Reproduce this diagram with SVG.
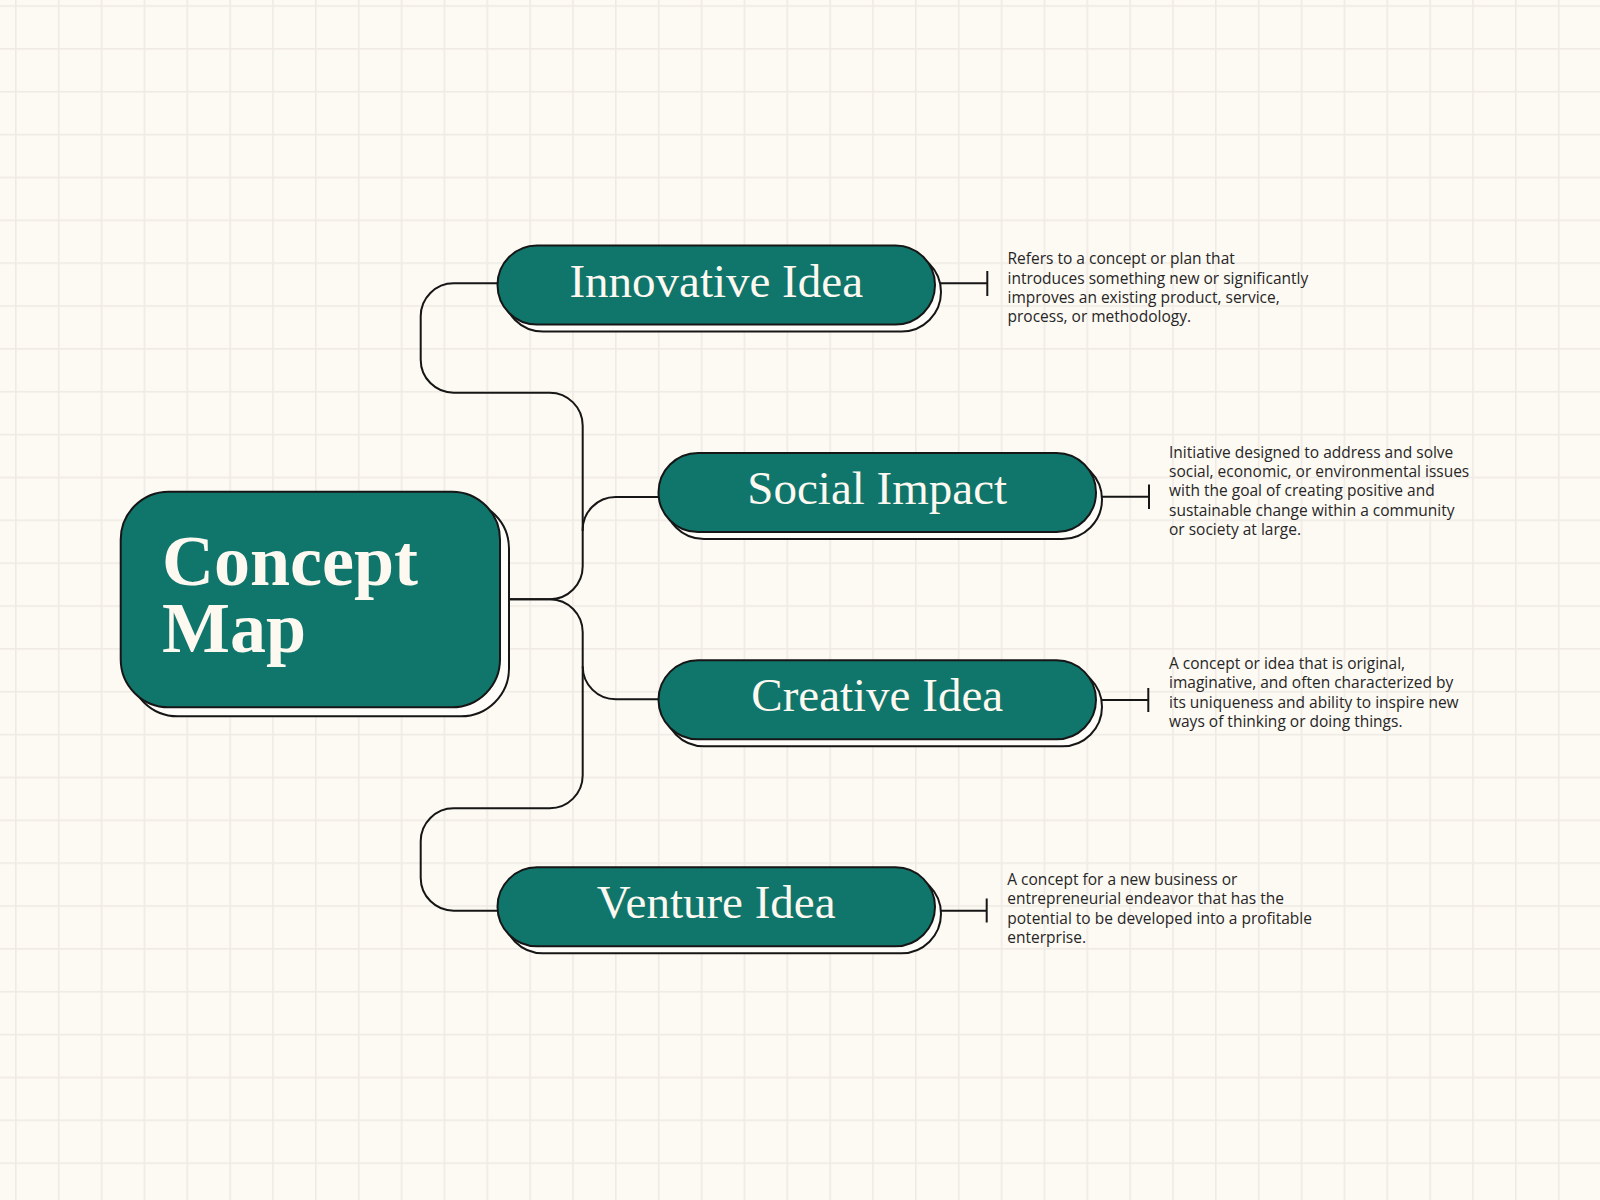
<svg xmlns="http://www.w3.org/2000/svg" width="1600" height="1200" viewBox="0 0 1600 1200">
  <defs>
    <pattern id="grid" x="15" y="5.2" width="42.857" height="42.857" patternUnits="userSpaceOnUse">
      <rect x="0" y="0" width="1.6" height="42.857" fill="#EFEAE4"/>
      <rect x="0" y="0" width="42.857" height="1.6" fill="#EFEAE4"/>
    </pattern>
    <style>
      .back { fill: #FFFDFA; stroke: #161616; stroke-width: 2; }
      .main { fill: #10766C; stroke: #161616; stroke-width: 2; }
      .conn { fill: none; stroke: #161616; stroke-width: 2; }
      .title { font-family: "Liberation Serif", "Times New Roman", serif; font-size: 47px; fill: #FDF8F0; text-anchor: middle; }
      .big { font-family: "Liberation Serif", "Times New Roman", serif; font-size: 72px; font-weight: bold; fill: #FDF8F0; }
      .desc { font-family: "Open Sans", "Liberation Sans", sans-serif; font-size: 15.5px; fill: #262626; }
    </style>
  </defs>
  <rect x="0" y="0" width="1600" height="1200" fill="#FDF9F3"/>
  <rect x="0" y="0" width="1600" height="1200" fill="url(#grid)"/>

  <g id="connectors">
    <path class="conn" d="M 500 599.3 H 550 A 33 33 0 0 0 582.7 566.3 V 425.7 A 33 33 0 0 0 549.7 392.7 H 453.7 A 33 33 0 0 1 420.7 359.7 V 316.3 A 33 33 0 0 1 453.7 283.3 H 505"/>
    <path class="conn" d="M 582.7 531 A 33 33 0 0 1 615.7 497 H 665"/>
    <path class="conn" d="M 500 599.3 H 550 A 33 33 0 0 1 582.7 632.3 V 775.3 A 33 33 0 0 1 549.7 808.3 H 453.7 A 33 33 0 0 0 420.7 841.3 V 877.7 A 33 33 0 0 0 453.7 910.7 H 505"/>
    <path class="conn" d="M 582.7 666.3 A 33 33 0 0 0 615.7 699.3 H 665"/>
    <path class="conn" d="M 935 283.3 H 987.3 M 987.3 271 V 296"/>
    <path class="conn" d="M 1094 496.7 H 1149 M 1149 484.5 V 509"/>
    <path class="conn" d="M 1094 700 H 1148.3 M 1148.3 688 V 712"/>
    <path class="conn" d="M 935 910.7 H 986.7 M 986.7 898.5 V 922.5"/>
  </g>

  <g id="concept-map">
    <rect class="back" x="129.7" y="500.7" width="379.3" height="215.6" rx="48"/>
    <rect class="main" x="120.7" y="491.7" width="379.3" height="215.6" rx="48"/>
    <text class="big"><tspan x="162" y="585">Concept</tspan><tspan x="162" y="651.7">Map</tspan></text>
  </g>

  <g id="innovative-idea">
    <rect class="back" x="503.5" y="252.5" width="437.5" height="79" rx="39.5"/>
    <rect class="main" x="497.5" y="245.5" width="437.5" height="79" rx="39.5"/>
    <text class="title" x="716.2" y="296.5">Innovative Idea</text>
  </g>
  <g id="innovative-note">
    <text class="desc" x="1007.5" y="264.3">Refers to a concept or plan that</text>
    <text class="desc" x="1007.5" y="283.6">introduces something new or significantly</text>
    <text class="desc" x="1007.5" y="302.9">improves an existing product, service,</text>
    <text class="desc" x="1007.5" y="322.2">process, or methodology.</text>
  </g>

  <g id="social-impact">
    <rect class="back" x="664.5" y="460" width="437.5" height="79" rx="39.5"/>
    <rect class="main" x="658.5" y="453" width="437.5" height="79" rx="39.5"/>
    <text class="title" x="877.2" y="504">Social Impact</text>
  </g>
  <g id="social-note">
    <text class="desc" x="1169" y="457.7">Initiative designed to address and solve</text>
    <text class="desc" x="1169" y="477">social, economic, or environmental issues</text>
    <text class="desc" x="1169" y="496.3">with the goal of creating positive and</text>
    <text class="desc" x="1169" y="515.6">sustainable change within a community</text>
    <text class="desc" x="1169" y="534.9">or society at large.</text>
  </g>

  <g id="creative-idea">
    <rect class="back" x="664.5" y="667.3" width="437.5" height="79" rx="39.5"/>
    <rect class="main" x="658.5" y="660.3" width="437.5" height="79" rx="39.5"/>
    <text class="title" x="877.2" y="711.3">Creative Idea</text>
  </g>
  <g id="creative-note">
    <text class="desc" x="1169" y="669">A concept or idea that is original,</text>
    <text class="desc" x="1169" y="688.3">imaginative, and often characterized by</text>
    <text class="desc" x="1169" y="707.6">its uniqueness and ability to inspire new</text>
    <text class="desc" x="1169" y="726.9">ways of thinking or doing things.</text>
  </g>

  <g id="venture-idea">
    <rect class="back" x="503.5" y="874.3" width="437.5" height="79" rx="39.5"/>
    <rect class="main" x="497.5" y="867.3" width="437.5" height="79" rx="39.5"/>
    <text class="title" x="716.2" y="918.3">Venture Idea</text>
  </g>
  <g id="venture-note">
    <text class="desc" x="1007.3" y="885">A concept for a new business or</text>
    <text class="desc" x="1007.3" y="904.3">entrepreneurial endeavor that has the</text>
    <text class="desc" x="1007.3" y="923.6">potential to be developed into a profitable</text>
    <text class="desc" x="1007.3" y="942.9">enterprise.</text>
  </g>
</svg>
